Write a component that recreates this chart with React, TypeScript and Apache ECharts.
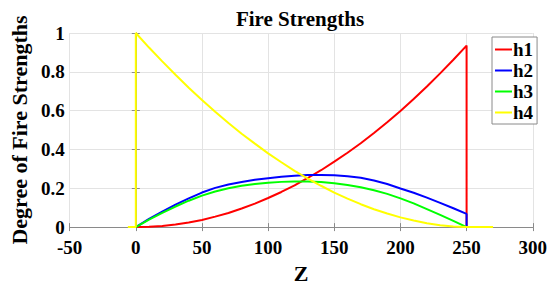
import React, { useEffect, useRef } from "react";
import * as echarts from "echarts";

const zSteps = [0, 10, 20, 30, 40, 50, 60, 70, 80, 90, 100, 110, 120, 130, 140, 150, 160, 170, 180, 190, 200, 210, 220, 230, 240, 250];
const h1Values = [0, 0.0015, 0.006, 0.013, 0.024, 0.037, 0.054, 0.073, 0.096, 0.121, 0.15, 0.181, 0.215, 0.253, 0.293, 0.337, 0.383, 0.432, 0.485, 0.54, 0.598, 0.66, 0.724, 0.792, 0.862, 0.935];
const h2Values = [0, 0.042, 0.08, 0.116, 0.148, 0.178, 0.202, 0.219, 0.232, 0.244, 0.252, 0.259, 0.264, 0.268, 0.269, 0.267, 0.262, 0.254, 0.24, 0.222, 0.199, 0.177, 0.152, 0.125, 0.097, 0.068];
const h3Values = [0, 0.038, 0.073, 0.106, 0.136, 0.162, 0.183, 0.2, 0.213, 0.222, 0.229, 0.233, 0.235, 0.235, 0.232, 0.226, 0.217, 0.205, 0.19, 0.171, 0.148, 0.122, 0.093, 0.063, 0.032, 0];
const h4Values = [1, 0.925, 0.854, 0.785, 0.718, 0.655, 0.594, 0.536, 0.481, 0.43, 0.38, 0.334, 0.29, 0.25, 0.213, 0.178, 0.147, 0.118, 0.092, 0.07, 0.05, 0.034, 0.02, 0.01, 0.003, 0];
const h4LeadZ = -6;
const h4TailZ = 270;
const seriesNames = ["h1", "h2", "h3", "h4"];
const seriesColors = ["#ff0000", "#0000ff", "#00ff00", "#ffff00"];
const xTicks = { min: -50, max: 300, interval: 50 };
const yTicks = { min: 0, max: 1, interval: 0.2 };

const FONT = "'Liberation Serif', 'Times New Roman', serif";

function zip(values: number[]): [number, number][] {
  return zSteps.map((z, i) => [z, values[i]] as [number, number]);
}

export default function App() {
  const ref = useRef<HTMLDivElement>(null);
  useEffect(() => {
    if (!ref.current) return;
    const chart = echarts.init(ref.current, null, { renderer: "svg" });
    const lastZ = zSteps[zSteps.length - 1];
    const data = [
      [...zip(h1Values), [lastZ, 0]],
      [...zip(h2Values), [lastZ, 0]],
      zip(h3Values),
      [[h4LeadZ, 0], [0, 0], ...zip(h4Values), [h4TailZ, 0]],
    ];
    const axisLineColor = "#8a8a8a";
    const gridColor = "#e3e3e3";
    const labelStyle = { color: "#000", fontFamily: FONT, fontWeight: "bold" as const, fontSize: 19 };
    chart.setOption({
      animation: false,
      backgroundColor: "#fff",
      graphic: [
        {
          type: "text",
          x: 300,
          y: 19,
          style: {
            text: "Fire Strengths",
            fontFamily: FONT,
            fontWeight: "bold",
            fontSize: 21,
            fill: "#000",
            align: "center",
            verticalAlign: "middle",
          },
        },
      ],
      grid: { left: 61, right: 11, top: 33, bottom: 52 },
      legend: {
        orient: "vertical",
        left: 492,
        top: 37,
        padding: [3, 4, 2, 3],
        itemGap: 2,
        itemWidth: 17,
        itemHeight: 2,
        icon: "rect",
        backgroundColor: "#fff",
        borderColor: "#8a8a8a",
        borderWidth: 1,
        borderRadius: 0,
        textStyle: { ...labelStyle, fontSize: 19, lineHeight: 19, padding: [0, 0, 0, -4] },
        data: seriesNames,
      },
      xAxis: [
        {
          type: "value",
          ...xTicks,
          name: "Z",
          nameLocation: "middle",
          nameGap: 34,
          nameTextStyle: { ...labelStyle, fontSize: 22 },
          axisLine: { show: true, lineStyle: { color: axisLineColor, width: 1 } },
          axisTick: { show: true, inside: true, length: 4, lineStyle: { color: axisLineColor } },
          axisLabel: { ...labelStyle, margin: 11 },
          splitLine: { show: true, lineStyle: { color: gridColor, width: 1 } },
        },
        {
          type: "value",
          position: "top",
          ...xTicks,
          axisLine: { show: true, lineStyle: { color: axisLineColor, width: 1 } },
          axisTick: { show: true, inside: true, length: 4, lineStyle: { color: axisLineColor } },
          axisLabel: { show: false },
          splitLine: { show: false },
        },
      ],
      yAxis: [
        {
          type: "value",
          ...yTicks,
          name: "Degree of Fire Strengths",
          nameLocation: "middle",
          nameGap: 28,
          nameTextStyle: { ...labelStyle, fontSize: 22 },
          axisLine: { show: true, lineStyle: { color: axisLineColor, width: 1 } },
          axisTick: { show: true, inside: true, length: 4, lineStyle: { color: axisLineColor } },
          axisLabel: { ...labelStyle, margin: 5 },
          splitLine: { show: true, lineStyle: { color: gridColor, width: 1 } },
        },
        {
          type: "value",
          position: "right",
          ...yTicks,
          axisLine: { show: true, lineStyle: { color: axisLineColor, width: 1 } },
          axisTick: { show: true, inside: true, length: 4, lineStyle: { color: axisLineColor } },
          axisLabel: { show: false },
          splitLine: { show: false },
        },
      ],
      series: seriesNames.map((name, i) => ({
        name,
        type: "line",
        data: data[i],
        showSymbol: false,
        symbol: "none",
        smooth: false,
        lineStyle: { color: seriesColors[i], width: 2 },
        itemStyle: { color: seriesColors[i] },
      })),
    });
    return () => chart.dispose();
  }, []);
  return (
    <div
      ref={ref}
      style={{ position: "fixed", left: 0, top: 0, width: 550, height: 289, background: "#fff" }}
    />
  );
}
